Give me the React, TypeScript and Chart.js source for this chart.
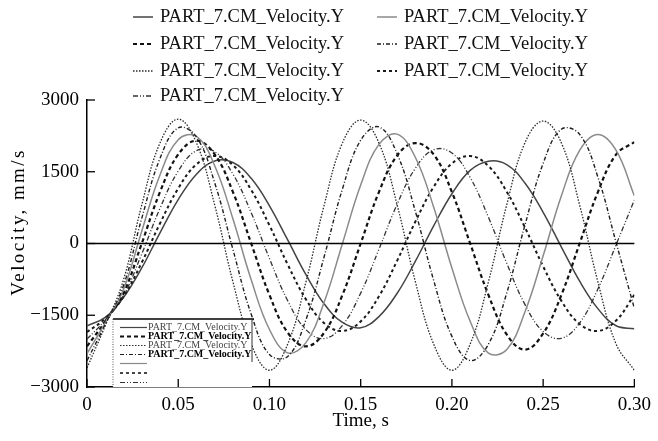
import React, { useEffect, useRef } from 'react';
import { Chart, registerables } from 'chart.js';

Chart.register(...registerables);

const SERIES_LABEL = 'PART_7.CM_Velocity.Y';
const X_TITLE = 'Time, s';
const Y_TITLE = 'Velocity, mm/s';
const SERIF = "'Liberation Serif', 'Times New Roman', serif";

const times = [
  0, 0.01, 0.02, 0.03, 0.04, 0.05, 0.06, 0.07, 0.08, 0.09, 0.1,
  0.11, 0.12, 0.13, 0.14, 0.15, 0.16, 0.17, 0.18, 0.19, 0.2,
  0.21, 0.22, 0.23, 0.24, 0.25, 0.26, 0.27, 0.28, 0.29, 0.3,
];

const p1 = [-2600, -1720, -760, 803, 2103, 2600, 2103, 803, -803, -2103, -2650, -2103, -803, 803, 2103, 2580, 2103, 803, -803, -2103, -2650, -2103, -803, 803, 2103, 2560, 2103, 803, -803, -2103, -2650];
const p2 = [-2450, -1690, -880, 525, 1777, 2417, 2225, 1267, -127, -1478, -2320, -2363, -1592, -273, 1140, 2160, 2437, 1874, 667, -771, -1942, -2446, -2107, -1042, 381, 1674, 2389, 2282, 1390, 18, -1359];
const p3 = [-2300, -1660, -960, 258, 1434, 2171, 2242, 1626, 512, -760, -1798, -2286, -2072, -1224, 0, 1224, 2072, 2286, 1798, 760, -512, -1626, -2290, -2220, -1434, -258, 998, 1947, 2280, 1947, 998];
const p4 = [-2150, -1630, -1040, 0, 1075, 1862, 2150, 1862, 1075, 0, -1075, -1862, -2150, -1862, -1075, 0, 1075, 1840, 2100, 1862, 1075, 0, -1075, -1900, -2220, -1880, -1075, 0, 1075, 1862, 2120];
const p5 = [-2000, -1600, -1090, -218, 734, 1514, 1942, 1919, 1450, 643, -314, -1197, -1802, -1988, -1711, -1037, -121, 823, 1575, 1961, 1891, 1380, 550, -409, -1273, -1841, -1981, -1660, -953, -24, 910];
const p6 = [-1850, -1570, -1110, -399, 419, 1152, 1656, 1830, 1638, 1120, 379, -439, -1168, -1665, -1829, -1629, -1104, -358, 459, 1184, 1673, 1829, 1620, 1087, 338, -479, -1200, -1682, -1828, -1610, -1071];
const p7 = [-1720, -1545, -1130, -512, 222, 918, 1450, 1725, 1694, 1362, 788, 74, -652, -1264, -1650, -1760, -1528, -1040, -369, 369, 1040, 1528, 1720, 1650, 1264, 652, -74, -788, -1362, -1720, -1780];

const xTickValues = [0, 0.05, 0.1, 0.15, 0.2, 0.25, 0.3];
const xTickLabels = ['0', '0.05', '0.10', '0.15', '0.20', '0.25', '0.30'];
const yTickValues = [-3000, -1500, 0, 1500, 3000];
const yTickLabels = ['\u22123000', '\u22121500', '0', '1500', '3000'];

const seriesValues = [p1, p2, p3, p4, p5, p6, p7];
const seriesStyles = [
  { borderColor: '#2a2a2a', borderWidth: 1.3, borderDash: [1.5, 1.5] },
  { borderColor: '#1e1e1e', borderWidth: 1.4, borderDash: [4, 2, 1, 2] },
  { borderColor: '#8a8a8a', borderWidth: 1.5, borderDash: [] },
  { borderColor: '#111111', borderWidth: 2.2, borderDash: [4, 3] },
  { borderColor: '#333333', borderWidth: 1.3, borderDash: [5, 2, 1, 2, 1, 2] },
  { borderColor: '#1a1a1a', borderWidth: 2.0, borderDash: [3, 3] },
  { borderColor: '#444444', borderWidth: 1.5, borderDash: [] },
];

// legend layout: [column, row, series index]
const legendOrder = [
  [0, 0, 6], [1, 0, 2],
  [0, 1, 3], [1, 1, 1],
  [0, 2, 0], [1, 2, 5],
  [0, 3, 4],
];
const insetOrder = [6, 3, 0, 1, 2, 5, 4];

function strokeLine(ctx: CanvasRenderingContext2D, x1: number, y1: number, x2: number, y2: number) {
  ctx.beginPath();
  ctx.moveTo(x1, y1);
  ctx.lineTo(x2, y2);
  ctx.stroke();
}

function drawSample(ctx: CanvasRenderingContext2D, idx: number, x1: number, x2: number, y: number, wScale = 1) {
  const s = seriesStyles[idx];
  ctx.save();
  ctx.strokeStyle = s.borderColor;
  ctx.lineWidth = s.borderWidth * wScale;
  ctx.setLineDash(s.borderDash);
  strokeLine(ctx, x1, y, x2, y);
  ctx.restore();
}

const decorPlugin = {
  id: 'decor',
  afterDatasetsDraw(chart: any) {
    const { ctx, chartArea: a, scales } = chart;
    const y = scales.y;
    ctx.save();
    ctx.strokeStyle = '#000';
    ctx.lineWidth = 1.7;
    ctx.setLineDash([]);
    const y0 = y.getPixelForValue(0);
    strokeLine(ctx, a.left, y0, a.right, y0);

    // inset legend box (lower-left)
    const bx1 = 113, bx2 = 252, by1 = 319, by2 = a.bottom;
    ctx.fillStyle = '#fff';
    ctx.fillRect(bx1, by1, bx2 - bx1, by2 - by1);
    ctx.strokeStyle = '#000';
    ctx.lineWidth = 1.6;
    strokeLine(ctx, bx1, by1, bx2 + 2, by1);
    ctx.lineWidth = 1;
    ctx.strokeStyle = '#555';
    ctx.setLineDash([1, 1.5]);
    strokeLine(ctx, bx1, by1, bx1, by2);
    ctx.setLineDash([]);
    ctx.strokeStyle = '#333';
    strokeLine(ctx, bx2, by1, bx2, 362);
    const rowsY = [327.5, 336.5, 345.5, 354.5, 363.5, 373, 382.5];
    insetOrder.forEach((idx, r) => {
      drawSample(ctx, idx, 120, 147, rowsY[r], 0.8);
      if (r < 4) {
        ctx.fillStyle = r % 2 === 1 ? '#000' : '#444';
        ctx.font = `${r % 2 === 1 ? 'bold ' : ''}10px ${SERIF}`;
        ctx.textBaseline = 'middle';
        ctx.textAlign = 'left';
        ctx.fillText(SERIES_LABEL, 148, rowsY[r]);
      }
    });
    ctx.restore();
  },
  afterDraw(chart: any) {
    const { ctx, chartArea: a, scales } = chart;
    const x = scales.x, y = scales.y;
    ctx.save();
    ctx.strokeStyle = '#000';
    ctx.lineWidth = 1.3;
    ctx.setLineDash([]);
    yTickValues.forEach((v) => {
      const py = y.getPixelForValue(v);
      strokeLine(ctx, a.left, py, a.left + 8, py);
    });
    xTickValues.forEach((v) => {
      const px = x.getPixelForValue(v);
      strokeLine(ctx, px, a.bottom, px, a.bottom - 8);
    });

    // top legend
    ctx.font = `18.5px ${SERIF}`;
    ctx.fillStyle = '#111';
    ctx.textBaseline = 'middle';
    ctx.textAlign = 'left';
    const colSample = [[133, 153], [377, 397]];
    const colText = [160, 404];
    const rowY = [17, 44, 71, 96];
    legendOrder.forEach(([c, r, idx]) => {
      drawSample(ctx, idx, colSample[c][0], colSample[c][1], rowY[r]);
      ctx.fillText(SERIES_LABEL, colText[c], rowY[r]);
    });

    // axis titles
    ctx.font = `19px ${SERIF}`;
    ctx.fillStyle = '#000';
    ctx.textAlign = 'center';
    ctx.textBaseline = 'middle';
    ctx.fillText(X_TITLE, (a.left + a.right) / 2, 421);
    ctx.save();
    ctx.translate(19, 222);
    ctx.rotate(-Math.PI / 2);
    (ctx as any).letterSpacing = '2.4px';
    ctx.fillText(Y_TITLE, 0, 0);
    ctx.restore();
    ctx.restore();
  },
};

export default function App() {
  const ref = useRef<HTMLCanvasElement>(null);
  useEffect(() => {
    const datasets = seriesValues.map((vals, i) => ({
      label: SERIES_LABEL,
      data: times.map((t, j) => ({ x: t, y: vals[j] })),
      ...seriesStyles[i],
      pointRadius: 0,
      tension: 0.4,
      fill: false,
    }));
    const tickFont = { family: SERIF, size: 19 };
    const chart = new Chart(ref.current as HTMLCanvasElement, {
      type: 'line',
      data: { datasets },
      options: {
        animation: false,
        responsive: false,
        devicePixelRatio: 1,
        events: [],
        layout: { padding: { top: 100, right: 18, left: 0, bottom: 0 } },
        plugins: { legend: { display: false }, tooltip: { enabled: false } },
        scales: {
          x: {
            type: 'linear',
            min: 0,
            max: 0.3,
            afterBuildTicks: (s: any) => { s.ticks = xTickValues.map((v) => ({ value: v })); },
            afterFit: (s: any) => { s.height = 54; },
            grid: { display: false, drawTicks: false },
            border: { display: true, color: '#000', width: 1.5 },
            ticks: {
              padding: 7,
              font: tickFont,
              color: '#000',
              maxRotation: 0,
              autoSkip: false,
              callback: (v: any) => {
                const i = xTickValues.findIndex((t) => Math.abs(t - Number(v)) < 1e-9);
                return i >= 0 ? xTickLabels[i] : '';
              },
            },
          },
          y: {
            type: 'linear',
            min: -3000,
            max: 3000,
            afterBuildTicks: (s: any) => { s.ticks = yTickValues.map((v) => ({ value: v })); },
            afterFit: (s: any) => { s.width = 87; },
            grid: { display: false, drawTicks: false },
            border: { display: true, color: '#000', width: 1.5 },
            ticks: {
              padding: 8,
              font: tickFont,
              color: '#000',
              autoSkip: false,
              callback: (v: any) => {
                const i = yTickValues.indexOf(Number(v));
                return i >= 0 ? yTickLabels[i] : '';
              },
            },
          },
        },
      },
      plugins: [decorPlugin],
    } as any);
    return () => chart.destroy();
  }, []);
  return (
    <div style={{ position: 'absolute', left: 0, top: 0, width: 658, height: 441, background: '#fff' }}>
      <canvas ref={ref} width={658} height={441} style={{ display: 'block', width: 658, height: 441 }} />
    </div>
  );
}
